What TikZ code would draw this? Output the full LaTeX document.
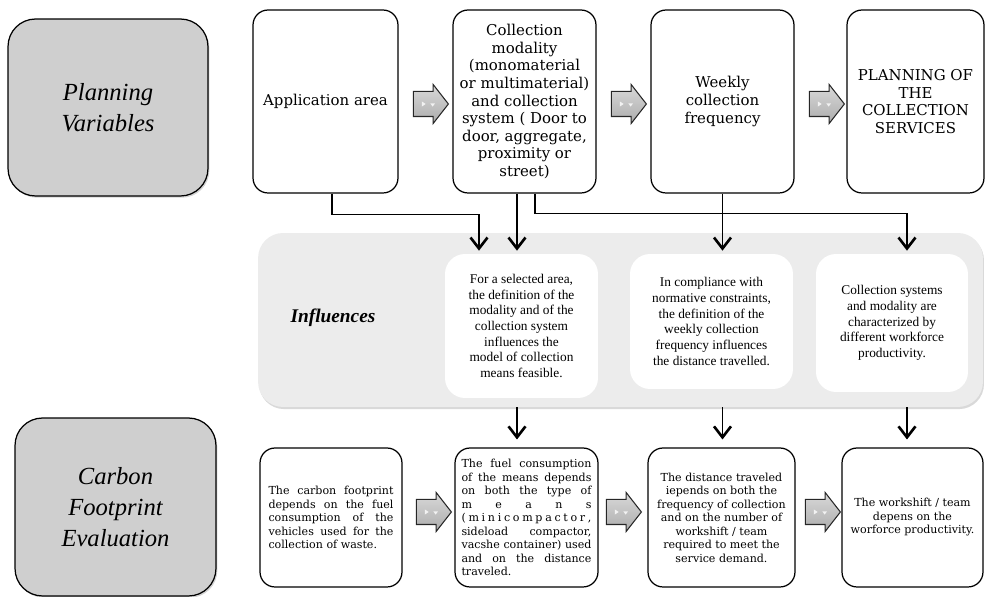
\documentclass[tikz,border=0pt]{standalone}
\usepackage{fontspec}
\setmainfont{DejaVu Serif}
\newfontfamily\capfont{Liberation Serif}
\usepackage{tikz}
\usetikzlibrary{shapes.arrows,positioning,arrows.meta,shadows}

\tikzset{
  titlebox/.style={draw=black, line width=0.7pt, fill=gray!38, rounded corners=0.55cm,
    align=center, font=\capfont\itshape\fontsize{14}{17.5}\selectfont,
    drop shadow={shadow xshift=0.8pt, shadow yshift=-1pt, opacity=0.35}},
  planbox/.style={draw=black, line width=0.7pt, fill=white, rounded corners=0.3cm,
    align=center, font=\fontsize{8.5}{10}\selectfont, minimum height=3.66cm},
  infobox/.style={fill=white, rounded corners=0.4cm, align=center,
    font=\capfont\fontsize{7.6}{8.9}\selectfont},
  evalbox/.style={draw=black, line width=0.7pt, fill=white, rounded corners=0.3cm,
    minimum height=2.78cm, font=\fontsize{6.3}{7.7}\selectfont},
  blockarrow/.style={single arrow, draw=gray!30!black, line width=0.6pt,
    top color=gray!30, bottom color=gray!65, inner xsep=0pt, inner ysep=0.24cm,
    minimum height=0.7cm,
    single arrow head extend=0.14cm, single arrow tip angle=104,
    path picture={
      \fill[gray!10] ([xshift=-4pt]path picture bounding box.center)
        +(-1.2pt,1.5pt) -- +(1pt,0pt) -- +(-1.2pt,-1.5pt) -- cycle;
      \fill[gray!10] ([xshift=1pt,yshift=-0.5pt]path picture bounding box.center)
        +(-1.3pt,0.8pt) -- +(1.3pt,0.8pt) -- +(0pt,-1pt) -- cycle;}},
  flow/.style={line width=0.8pt, shorten >=1.7pt,
    -{Straight Barb[length=2.2mm,width=3.4mm,line width=1.5pt]}}
}

\begin{document}
\begin{tikzpicture}[x=0.02cm,y=-0.02cm]
  \useasboundingbox (0,0) rectangle (985,597);

  % row titles
  \node[titlebox, minimum width=4cm, minimum height=3.54cm] (planvar) at (108,107.5) {Planning\\Variables};
  \node[titlebox, minimum width=4.02cm, minimum height=3.56cm] (carbon) at (115.5,507) {Carbon\\Footprint\\Evaluation};

  % planning variables
  \node[planbox, minimum width=2.9cm] (area) at (325.5,101.5) {Application area};
  \node[planbox, minimum width=2.86cm] (modality) at (524.5,101.5) {Collection\\modality\\(monomaterial\\or multimaterial)\\and collection\\system ( Door to\\door, aggregate,\\proximity or\\street)};
  \node[planbox, minimum width=2.86cm] (weekly) at (722.5,101.5) {Weekly\\collection\\frequency};
  \node[planbox, minimum width=2.74cm] (services) at (915.5,101.5) {PLANNING OF\\THE\\COLLECTION\\SERVICES};

  \node[blockarrow] (ar1) at (426,104) {};
  \node[blockarrow] (ar2) at (624,104) {};
  \node[blockarrow] (ar3) at (822,104) {};

  % influences
  \node[fill=gray!15, rounded corners=0.5cm, minimum width=14.5cm, minimum height=3.48cm,
    drop shadow={shadow xshift=0.6pt, shadow yshift=-1.2pt, opacity=0.3}] (panel) at (620.5,320) {};
  \node[font=\capfont\bfseries\itshape\fontsize{11}{13}\selectfont] (influences) at (333,318) {Influences};

  \node[infobox, minimum width=3.06cm, minimum height=2.88cm] (inf1) at (521.5,326) {For a selected area,\\the definition of the\\modality and of the\\collection system\\influences the\\model of collection\\means feasible.};
  \node[infobox, minimum width=3.26cm, minimum height=2.7cm] (inf2) at (711.5,321.5) {In compliance with\\normative constraints,\\the definition of the\\weekly collection\\frequency influences\\the distance travelled.};
  \node[infobox, minimum width=3.04cm, minimum height=2.76cm] (inf3) at (892,323) {Collection systems\\and modality are\\characterized by\\different workforce\\productivity.};

  % carbon footprint evaluation
  \node[evalbox, minimum width=2.84cm, text width=2.5cm, align=justify] (ev1) at (331,517.5) {The carbon footprint\linebreak depends on the fuel\linebreak consumption of the\linebreak vehicles used for the\linebreak collection of waste.};
  \node[evalbox, minimum width=2.86cm, text width=2.6cm, align=justify] (ev2) at (526.5,517.5) {The fuel consumption\linebreak of the means depends\linebreak on both the type of\linebreak m\hfill e\hfill a\hfill n\hfill s\linebreak (\hfill m\hfill i\hfill n\hfill i\hfill c\hfill o\hfill m\hfill p\hfill a\hfill c\hfill t\hfill o\hfill r\hfill ,\linebreak sideload compactor,\linebreak vacshe container) used\linebreak and on the distance\linebreak traveled.};
  \node[evalbox, minimum width=2.94cm, align=center] (ev3) at (721.5,517.5) {The distance traveled\\iepends on both the\\frequency of collection\\and on the number of\\workshift / team\\required to meet the\\service demand.};
  \node[evalbox, minimum width=2.82cm, align=center] (ev4) at (912.5,517.5) {The workshift / team\\depens on the\\worforce productivity.};

  \node[blockarrow] (ar4) at (429,512) {};
  \node[blockarrow] (ar5) at (619,512) {};
  \node[blockarrow] (ar6) at (818,512) {};

  % connectors
  \coordinate (m1) at ([xshift=-0.15cm]modality.south);
  \coordinate (m2) at ([xshift=0.21cm]modality.south);
  \coordinate (t3) at ([xshift=0.3cm]inf3.north);
  \draw[flow] ([xshift=0.13cm]area.south) -- ++(0,21) -| ([xshift=-0.85cm]inf1.north);
  \draw[flow] (m1) -- (m1 |- inf1.north);
  \draw[flow] (m2) -- ++(0,20) -| (t3);
  \draw[flow] (weekly.south) -- (weekly.south |- inf2.north);

  \draw[flow, shorten >=4.5pt] (m1 |- panel.south) -- (m1 |- ev2.north);
  \draw[flow, shorten >=4.5pt] (weekly.south |- panel.south) -- (weekly.south |- ev3.north);
  \draw[flow, shorten >=4.5pt] (t3 |- panel.south) -- (t3 |- ev4.north);
\end{tikzpicture}
\end{document}
